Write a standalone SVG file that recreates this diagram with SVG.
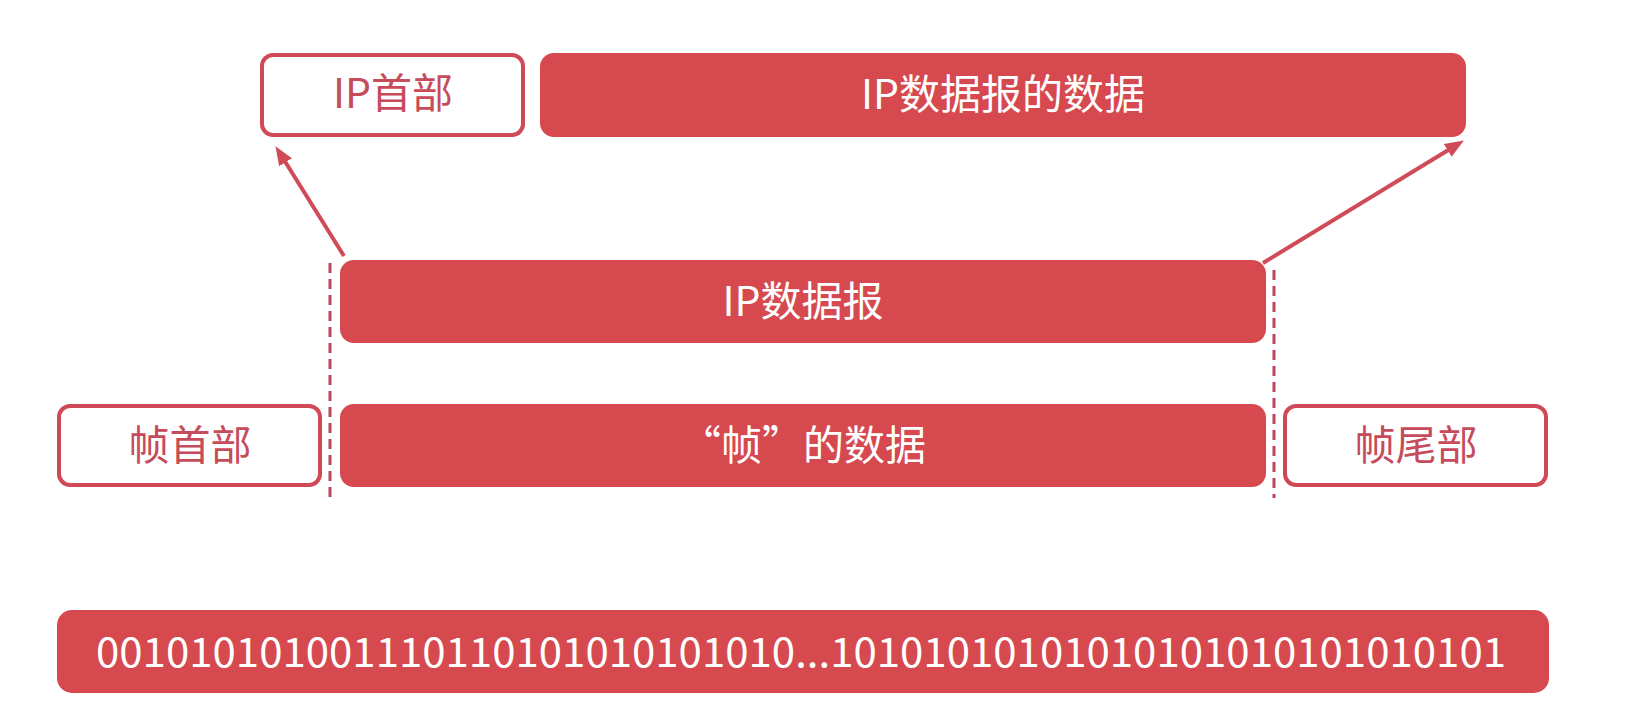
<svg xmlns="http://www.w3.org/2000/svg" width="1636" height="728" viewBox="0 0 1636 728">
<style>
.fill{fill:#d5494f;}
.outline{fill:#ffffff;stroke:#cf4a56;stroke-width:4;}
.t{font-family:"Noto Sans CJK SC","Noto Sans",sans-serif;font-size:41px;text-anchor:middle;}
.tw{fill:#ffffff;}
.tr{fill:#c64b5b;}
.arrow{stroke:#d04a57;stroke-width:4;fill:none;}
.dash{stroke:#b9475f;stroke-width:3;stroke-dasharray:10 6;fill:none;}
</style>
<defs>
<marker id="ah" markerUnits="userSpaceOnUse" markerWidth="20" markerHeight="16" refX="8" refY="7.5" orient="auto">
<path d="M0,0 L19,7.5 L0,15 z" fill="#d04a57"/>
</marker>
</defs>
<rect width="1636" height="728" fill="#ffffff"/>
<g id="ip-header">
<rect class="outline" x="262" y="55" width="261" height="80" rx="11"/>
<text class="t tr" x="393" y="108">IP首部</text>
</g>
<g id="ip-payload">
<rect class="fill" x="540" y="53" width="926" height="84" rx="14"/>
<text class="t tw" x="1003" y="109">IP数据报的数据</text>
</g>
<g id="ip-datagram">
<rect class="fill" x="340" y="260" width="926" height="83" rx="14"/>
<text class="t tw" x="803" y="316">IP数据报</text>
</g>
<g id="frame-header">
<rect class="outline" x="59" y="406" width="261" height="79" rx="11"/>
<text class="t tr" x="190" y="460">帧首部</text>
</g>
<g id="frame-data">
<rect class="fill" x="340" y="404" width="926" height="83" rx="14"/>
<text class="t tw" x="803" y="460">“帧”的数据</text>
</g>
<g id="frame-trailer">
<rect class="outline" x="1285" y="406" width="261" height="79" rx="11"/>
<text class="t tr" x="1416" y="460">帧尾部</text>
</g>
<g id="bits">
<rect class="fill" x="57" y="610" width="1492" height="83" rx="15"/>
<text class="t tw" x="801" y="667" font-size="44" textLength="1410" lengthAdjust="spacingAndGlyphs">001010101001110110101010101010...10101010101010101010101010101</text>
</g>
<g id="connectors">
<line class="arrow" x1="344" y1="256" x2="281.3" y2="155.5" marker-end="url(#ah)"/>
<line class="arrow" x1="1263" y1="263" x2="1454.5" y2="146.2" marker-end="url(#ah)"/>
<line class="dash" x1="330" y1="263" x2="330" y2="502"/>
<line class="dash" x1="1274" y1="270" x2="1274" y2="498"/>
</g>
</svg>
